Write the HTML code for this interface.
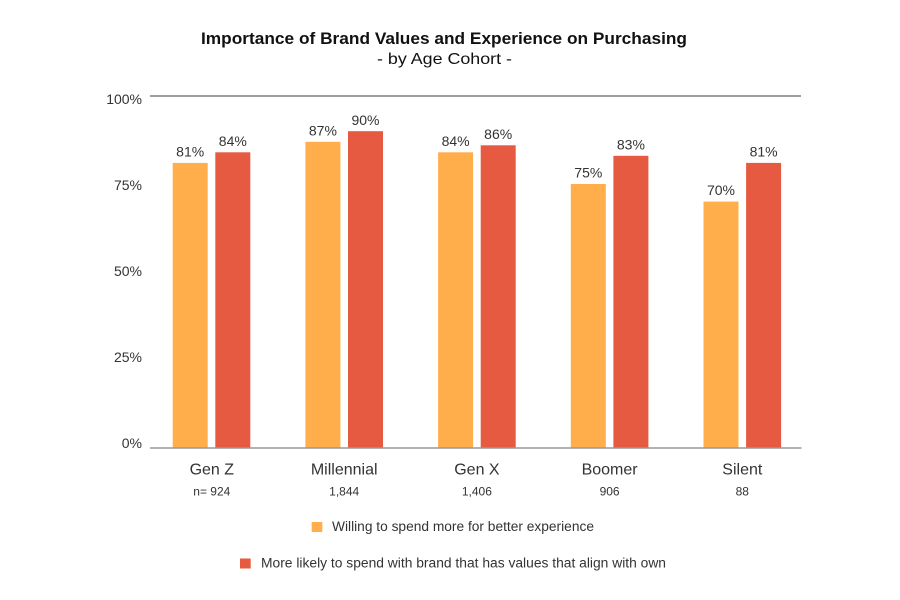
<!DOCTYPE html>
<html><head><meta charset="utf-8"><style>
html,body{margin:0;padding:0;background:#fff;}
svg{display:block;}
text{font-family:"Liberation Sans",Arial,sans-serif;fill:#333;}
</style></head><body>
<svg width="900" height="600" viewBox="0 0 900 600" xmlns="http://www.w3.org/2000/svg">
<rect width="900" height="600" fill="#fff"/>
<text x="444" y="44" text-anchor="middle" font-size="16.5" font-weight="bold" fill="#111" style="fill:#111" textLength="486" lengthAdjust="spacingAndGlyphs">Importance of Brand Values and Experience on Purchasing</text>
<text x="444.5" y="64" text-anchor="middle" font-size="16" style="fill:#111" textLength="135" lengthAdjust="spacingAndGlyphs">- by Age Cohort -</text>

<line x1="150" y1="96" x2="801" y2="96" stroke="#666" stroke-width="1.3"/>

<g font-size="14" text-anchor="end">
<text x="142" y="104">100%</text>
<text x="142" y="190">75%</text>
<text x="142" y="276">50%</text>
<text x="142" y="362">25%</text>
<text x="142" y="448">0%</text>
</g>

<g>
<!-- Gen Z c=211.5 -->
<rect x="172.7" y="162.9" width="35" height="285.1" fill="#FFAE4B"/>
<rect x="215.3" y="152.3" width="35" height="295.7" fill="#E55A40"/>
<!-- Millennial c=344.2 -->
<rect x="305.4" y="141.8" width="35" height="306.2" fill="#FFAE4B"/>
<rect x="348.0" y="131.2" width="35" height="316.8" fill="#E55A40"/>
<!-- Gen X c=476.9 -->
<rect x="438.1" y="152.3" width="35" height="295.7" fill="#FFAE4B"/>
<rect x="480.7" y="145.3" width="35" height="302.7" fill="#E55A40"/>
<!-- Boomer c=609.6 -->
<rect x="570.8" y="184.0" width="35" height="264" fill="#FFAE4B"/>
<rect x="613.4" y="155.8" width="35" height="292.2" fill="#E55A40"/>
<!-- Silent c=742.3 -->
<rect x="703.5" y="201.6" width="35" height="246.4" fill="#FFAE4B"/>
<rect x="746.1" y="162.9" width="35" height="285.1" fill="#E55A40"/>
</g>

<line x1="150" y1="448" x2="801.5" y2="448" stroke="#999" stroke-width="1.5"/>

<g font-size="14" text-anchor="middle">
<text x="190.2" y="156.5">81%</text>
<text x="232.8" y="146">84%</text>
<text x="322.9" y="135.5">87%</text>
<text x="365.5" y="125">90%</text>
<text x="455.6" y="146">84%</text>
<text x="498.2" y="139">86%</text>
<text x="588.3" y="177.5">75%</text>
<text x="630.9" y="149.5">83%</text>
<text x="721" y="195">70%</text>
<text x="763.6" y="156.5">81%</text>
</g>

<g font-size="16" text-anchor="middle">
<text x="211.8" y="474.5">Gen Z</text>
<text x="344.2" y="474.5">Millennial</text>
<text x="476.9" y="474.5">Gen X</text>
<text x="609.6" y="474.5">Boomer</text>
<text x="742.3" y="474.5">Silent</text>
</g>
<g font-size="12" text-anchor="middle">
<text x="211.8" y="495.5">n= 924</text>
<text x="344.2" y="495.5">1,844</text>
<text x="476.9" y="495.5">1,406</text>
<text x="609.6" y="495.5">906</text>
<text x="742.3" y="495.5">88</text>
</g>

<rect x="311.7" y="522" width="10.6" height="10" fill="#FFAE4B"/>
<text x="332" y="531" font-size="13.5" textLength="262" lengthAdjust="spacingAndGlyphs">Willing to spend more for better experience</text>
<rect x="240" y="558.5" width="10.7" height="10" fill="#E55A40"/>
<text x="261" y="567.5" font-size="13.5" textLength="405" lengthAdjust="spacingAndGlyphs">More likely to spend with brand that has values that align with own</text>
</svg>
</body></html>
